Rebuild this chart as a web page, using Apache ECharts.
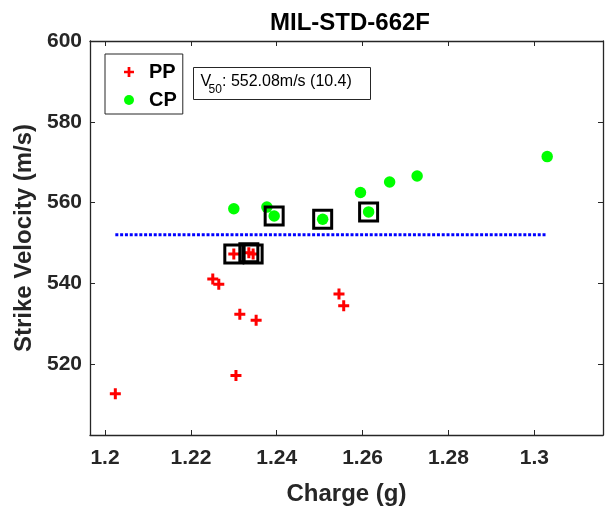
<!DOCTYPE html>
<html>
<head>
<meta charset="utf-8">
<script src="https://cdn.jsdelivr.net/npm/echarts@6/dist/echarts.min.js"></script>
<style>html,body{margin:0;padding:0;background:#fff}#c{width:605px;height:509px}</style>
</head>
<body>
<div id="c"></div>
<script>
// partial penetrations (PP) and complete penetrations (CP): charge (g) vs strike velocity (m/s)
const ppCharge = [1.2024, 1.2251, 1.2265, 1.2314, 1.2352, 1.2305, 1.2545, 1.2556, 1.2300, 1.2345, 1.2335];
const ppVel    = [512.7, 541.1, 539.8, 532.4, 530.9, 517.2, 537.4, 534.5, 547.3, 547.3, 547.6];
const cpCharge = [1.2300, 1.2377, 1.2394, 1.2507, 1.2614, 1.2595, 1.2663, 1.2727, 1.3030];
const cpVel    = [558.5, 558.9, 556.7, 555.9, 557.7, 562.5, 565.1, 566.6, 571.4];
// shots used for the V50 (boxed)
const boxedPP = [8, 9, 10];
const boxedCP = [2, 3, 4];
const v50 = 552.08, v50Sd = 10.4;
const xTicks = [1.2, 1.22, 1.24, 1.26, 1.28, 1.3];
const yTicks = [520, 540, 560, 580, 600];
const xRange = [1.1965, 1.316], yRange = [502.5, 600];

const FONT = "'Liberation Sans', Arial, sans-serif";
const INK = "#262626";
const pp = ppCharge.map((x,i)=>[x, ppVel[i]]);
const cp = cpCharge.map((x,i)=>[x, cpVel[i]]);
const boxed = boxedPP.map(i=>pp[i]).concat(boxedCP.map(i=>cp[i]));
const allX = ppCharge.concat(cpCharge);
const v50Line = [[Math.min(...allX), v50], [Math.max(...allX), v50]];
const plus = 'path://M4,0H7V4H11V7H7V11H4V7H0V4H4Z';

const axisCommon = {
  axisLine:{show:true, onZero:false, lineStyle:{color:INK, width:1.3}},
  splitLine:{show:false},
};
const chart = echarts.init(document.getElementById('c'), null, {renderer:'canvas'});
chart.setOption({
  animation:false,
  backgroundColor:'#fff',
  title:{ text:'MIL-STD-662F', left:345, textAlign:'center', top:6,
    textStyle:{fontFamily:FONT, fontWeight:'bold', fontSize:24, color:'#000'} },
  grid:{ left:90, top:41, right:2, bottom:74, outerBoundsMode:'none', containLabel:false },
  legend:{ data:['PP','CP'], orient:'vertical', left:105, top:54,
    padding:[8,6,4,19], itemGap:8, itemWidth:10, itemHeight:10,
    borderColor:INK, borderWidth:1, backgroundColor:'#fff',
    textStyle:{fontFamily:FONT, fontWeight:'bold', fontSize:20, color:'#000', lineHeight:20, padding:[0,0,0,10]} },
  xAxis:[
    Object.assign({ type:'value', min:xRange[0], max:xRange[1], position:'bottom',
      name:'Charge (g)', nameLocation:'middle', nameGap:47,
      nameTextStyle:{fontFamily:FONT, fontWeight:'bold', fontSize:24, color:INK},
      axisTick:{show:true, inside:true, length:5, customValues:xTicks, lineStyle:{color:INK}},
      axisLabel:{show:true, customValues:xTicks, margin:13, fontFamily:FONT, fontWeight:'bold', fontSize:21, color:INK} }, axisCommon),
    Object.assign({ type:'value', min:xRange[0], max:xRange[1], position:'top',
      axisTick:{show:true, inside:true, length:5, customValues:xTicks, lineStyle:{color:INK}},
      axisLabel:{show:false} }, axisCommon)
  ],
  yAxis:[
    Object.assign({ type:'value', min:yRange[0], max:yRange[1], position:'left',
      name:'Strike Velocity (m/s)', nameLocation:'middle', nameGap:49,
      nameTextStyle:{fontFamily:FONT, fontWeight:'bold', fontSize:24, color:INK},
      axisTick:{show:true, inside:true, length:5, customValues:yTicks, lineStyle:{color:INK}},
      axisLabel:{show:true, customValues:yTicks, margin:8, fontFamily:FONT, fontWeight:'bold', fontSize:21, color:INK} }, axisCommon),
    Object.assign({ type:'value', min:yRange[0], max:yRange[1], position:'right',
      axisTick:{show:true, inside:true, length:5, customValues:yTicks, lineStyle:{color:INK}},
      axisLabel:{show:false} }, axisCommon)
  ],
  series:[
    { name:'V50', type:'line', data:v50Line, symbol:'none', silent:true,
      lineStyle:{color:'#0000ff', width:3, type:[3,1.8]}, z:1 },
    { name:'PP', type:'scatter', data:pp, symbol:plus, symbolSize:11,
      itemStyle:{color:'#ff0000', opacity:1}, z:2 },
    { name:'CP', type:'scatter', data:cp, symbol:'circle', symbolSize:11.5,
      itemStyle:{color:'#00ff00', opacity:1}, z:2 },
    { name:'boxed', type:'scatter', data:boxed, symbol:'rect', symbolSize:18, silent:true,
      itemStyle:{color:'rgba(0,0,0,0)', borderColor:'#000', borderWidth:3, opacity:1}, z:3 }
  ],
  graphic:[{
    type:'group', left:193, top:67, z:10,
    children:[
      { type:'rect', shape:{x:0, y:0, width:177, height:32}, style:{fill:'#fff', stroke:INK, lineWidth:1} },
      { type:'text', x:7, y:14, style:{text:'V', fontFamily:FONT, fontSize:16, fill:'#000', verticalAlign:'middle'} },
      { type:'text', x:15, y:22, style:{text:'50', fontFamily:FONT, fontSize:12, fill:'#000', verticalAlign:'middle'} },
      { type:'text', x:28.5, y:14, style:{text:': ' + v50.toFixed(2) + 'm/s (' + v50Sd + ')', fontFamily:FONT, fontSize:16, fill:'#000', verticalAlign:'middle'} }
    ]
  }]
});
</script>
</body>
</html>
